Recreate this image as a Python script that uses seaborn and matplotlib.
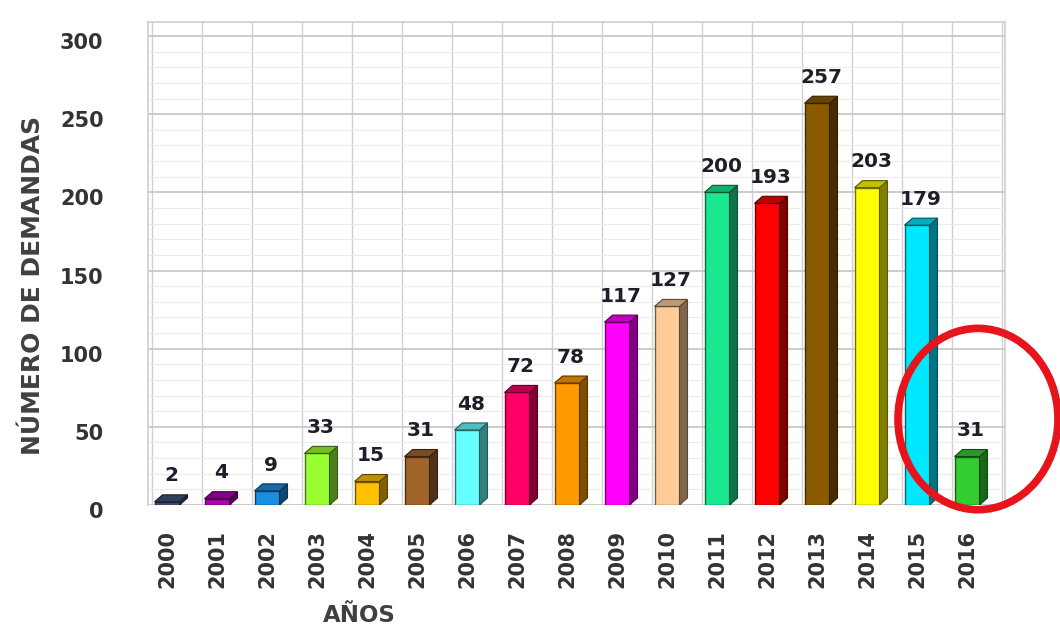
import numpy as np
import matplotlib
matplotlib.use("Agg")
import matplotlib.pyplot as plt
import matplotlib.colors as mcolors
import matplotlib.transforms as mtransforms
from matplotlib.patches import Polygon, Ellipse
from matplotlib.ticker import MultipleLocator, FixedLocator
import seaborn as sns

years = ['2000', '2001', '2002', '2003', '2004', '2005', '2006', '2007', '2008',
         '2009', '2010', '2011', '2012', '2013', '2014', '2015', '2016']
demandas = [2, 4, 9, 33, 15, 31, 48, 72, 78, 117, 127, 200, 193, 257, 203, 179, 31]
colores = ['#3f5576', '#b000b0', '#1a8fe0', '#99ff33', '#ffc000', '#a0642a',
           '#66ffff', '#ff0066', '#ff9900', '#ff00ff', '#ffcc99', '#19e890',
           '#ff0000', '#8a5a00', '#ffff00', '#00e8ff', '#33cc33']
y_ticks = [0, 50, 100, 150, 200, 250, 300]

sns.set_theme(style="white")
plt.rcParams['font.family'] = ['DejaVu Sans']

fig = plt.figure(figsize=(10.6, 6.29), dpi=100)
ax = fig.add_axes([148/1060, 1-505/629, (1005-148)/1060, (505-22)/629])

sns.barplot(x=years, y=demandas, hue=years, palette=colores, legend=False,
            width=0.5, ax=ax, linewidth=1.0, saturation=1)

ax.set_xlim(-0.38, 16.76)
ax.set_ylim(0, 309)

dx = 0.16
dy = 4.5
for p, c in zip(ax.patches, colores):
    rgb = np.array(mcolors.to_rgb(c))
    dark = tuple(rgb * 0.5)
    mid = tuple(rgb * 0.75)
    p.set_edgecolor(tuple(rgb * 0.45))
    x0 = p.get_x()
    w = p.get_width()
    h = p.get_height()
    x1 = x0 + w
    side = Polygon([(x1, 0), (x1 + dx, dy), (x1 + dx, h + dy), (x1, h)],
                   closed=True, facecolor=dark, edgecolor=tuple(rgb * 0.35), lw=0.8, zorder=3)
    top = Polygon([(x0, h), (x0 + dx, h + dy), (x1 + dx, h + dy), (x1, h)],
                  closed=True, facecolor=mid, edgecolor=tuple(rgb * 0.35), lw=0.8, zorder=3)
    ax.add_patch(side)
    ax.add_patch(top)
    ax.text(x0 + (w + dx) / 2, h + dy + 6, f"{int(h)}", ha='center', va='bottom',
            fontsize=14.5, fontweight='bold', color='#1e1e2a', zorder=5)

ax.set_axisbelow(True)
ax.yaxis.set_major_locator(FixedLocator(y_ticks))
ax.yaxis.set_minor_locator(MultipleLocator(10))
ax.xaxis.set_minor_locator(FixedLocator(np.arange(-0.3, 17, 1.0)))
ax.yaxis.grid(True, which='major', color='#c4c4c4', lw=1.2)
ax.yaxis.grid(True, which='minor', color='#ebebeb', lw=0.8)
ax.xaxis.grid(True, which='minor', color='#d0d0d0', lw=1.0)
ax.xaxis.grid(False, which='major')

for s in ['top', 'right', 'left']:
    ax.spines[s].set_color('#d0d0d0')
ax.spines['bottom'].set_visible(False)

ax.tick_params(axis='y', which='both', length=0, pad=32, labelsize=15, labelcolor='#333333')
ax.tick_params(axis='x', which='both', length=0, pad=18, labelsize=15, labelcolor='#333333')
shift = mtransforms.ScaledTranslation(0, -5/100, fig.dpi_scale_trans)
for lab in ax.get_yticklabels():
    lab.set_fontweight('bold')
    lab.set_transform(lab.get_transform() + shift)
for lab in ax.get_xticklabels():
    lab.set_fontweight('bold')
    lab.set_rotation(90)
    lab.set_va('top')
ax.set_xlabel('')
ax.set_ylabel('')

fig.text(33/1060, 1-285/629, 'NÚMERO DE DEMANDAS', rotation=90, ha='center', va='center',
         fontsize=18, fontweight='bold', color='#404040')
fig.text(359/1060, 1-615/629, 'AÑOS', ha='center', va='center',
         fontsize=16.5, fontweight='bold', color='#404040')

circ = Ellipse((16.22, 55), width=3.2, height=116, fill=False, edgecolor='#e8141c',
               lw=5.5, clip_on=False, zorder=6)
ax.add_patch(circ)

fig.savefig('out.png', dpi=100)
